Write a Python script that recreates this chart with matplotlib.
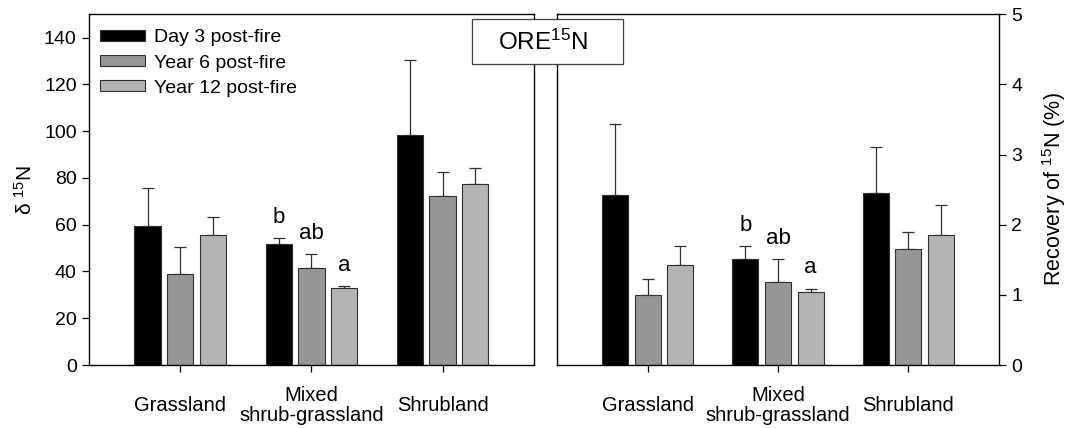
import numpy as np
import matplotlib
matplotlib.use('Agg')
import matplotlib.pyplot as plt
from matplotlib.patches import Rectangle

plt.rcParams['font.family'] = ['Liberation Sans', 'DejaVu Sans']
plt.rcParams['mathtext.default'] = 'regular'

habitats = ['Grassland', 'Mixed\nshrub-grassland', 'Shrubland']
series = ['Day 3 post-fire', 'Year 6 post-fire', 'Year 12 post-fire']
colors = ['#000000', '#969696', '#b4b4b4']

# delta 15N (left panel), mean and upper error
d15n = [[59.6, 51.8, 98.2],
        [38.9, 41.7, 72.1],
        [55.5, 32.9, 77.6]]
d15n_err = [[16.0, 2.4, 32.4],
            [11.4, 5.8, 10.3],
            [7.7, 1.0, 6.5]]

# recovery of 15N in % (right panel)
recov = [[2.43, 1.51, 2.45],
         [1.00, 1.18, 1.66],
         [1.43, 1.04, 1.85]]
recov_err = [[1.00, 0.18, 0.65],
             [0.22, 0.33, 0.23],
             [0.26, 0.05, 0.43]]

sig_letters = ['b', 'ab', 'a']  # mixed shrub-grassland only

x = np.arange(len(habitats))
width = 0.2
step = 0.25

fig = plt.figure(figsize=(10.73, 4.28), dpi=100)
ax1 = fig.add_axes([0.0825, 0.147, 0.4155, 0.820])
ax2 = fig.add_axes([0.5188, 0.147, 0.4125, 0.820])


def draw_panel(ax, vals, errs, letter_pad):
    for i in range(3):
        pos = x + (i - 1) * step
        ax.bar(pos, vals[i], width, color=colors[i], edgecolor='#303030',
               linewidth=0.8, label=series[i], zorder=2)
        ax.errorbar(pos, vals[i], yerr=[np.zeros(3), errs[i]], fmt='none',
                    ecolor='#303030', elinewidth=0.9, capsize=4, capthick=0.9,
                    zorder=1)
        top = vals[i][1] + errs[i][1]
        ax.text(pos[1], top + letter_pad, sig_letters[i], ha='center',
                va='baseline', fontsize=16)
    ax.set_xlim(-0.7, 2.7)
    ax.set_xticks(x)
    ax.set_xticklabels(habitats, fontsize=14.5, linespacing=1.05)
    # centre the category names vertically, one- and two-line alike
    for lab in ax.get_xticklabels():
        lab.set_verticalalignment('center')
    ax.tick_params(axis='x', length=5, pad=24, width=0.9)
    for s in ax.spines.values():
        s.set_linewidth(1.0)


draw_panel(ax1, d15n, d15n_err, 6.5)
ax1.set_ylim(0, 150)
ax1.set_yticks(np.arange(0, 141, 20))
ax1.tick_params(axis='y', labelsize=14, length=5, width=0.9)
ax1.set_ylabel('δ $^{15}$N', fontsize=15, labelpad=6)
ax1.legend(loc='upper left', fontsize=14, frameon=False, handlelength=2.3,
           handleheight=0.5, handletextpad=0.5, labelspacing=0.42,
           borderaxespad=0.3, bbox_to_anchor=(-0.005, 0.995))

draw_panel(ax2, recov, recov_err, 0.22)
ax2.set_ylim(0, 5)
ax2.set_yticks(np.arange(0, 6, 1))
ax2.yaxis.tick_right()
ax2.yaxis.set_label_position('right')
ax2.tick_params(axis='y', labelsize=14, length=5, width=0.9)
ax2.set_ylabel('Recovery of $^{15}$N (%)', fontsize=15.5, labelpad=13)

# title box straddling both panels
fig.add_artist(Rectangle((0.4396, 0.8504), 0.1413, 0.1044,
                         transform=fig.transFigure, facecolor='white',
                         edgecolor='#404040', linewidth=0.9, zorder=5))
fig.text(0.5060, 0.9010, 'ORE$^{15}$N', ha='center', va='center',
         fontsize=17.5, zorder=6)

fig.savefig('out.png', dpi=100)
